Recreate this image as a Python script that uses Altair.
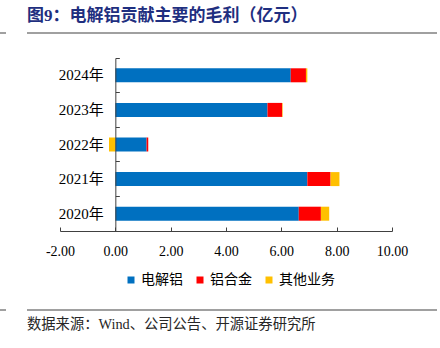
import altair as alt
import pandas as pd

years = ["2020年", "2021年", "2022年", "2023年", "2024年"]
series = ["电解铝", "铝合金", "其他业务"]
aluminium = [6.63, 6.94, 1.13, 5.50, 6.34]
alloy = [0.80, 0.84, 0.06, 0.53, 0.55]
other = [0.30, 0.32, -0.23, 0.02, 0.05]
colors = ["#0070C0", "#FF0000", "#FFC000"]
x_ticks = [-2, 0, 2, 4, 6, 8, 10]
title_text = "图9：电解铝贡献主要的毛利（亿元）"
source_text = "数据来源：Wind、公司公告、开源证券研究所"

rows = []
for i, yr in enumerate(years):
    for j, vals in enumerate([aluminium, alloy, other]):
        rows.append({"year": yr, "series": series[j], "order": j, "value": vals[i]})
df = pd.DataFrame(rows)

W, H = 332, 173
x0 = W * 2 / 12
AX = "#404040"
LINE = "#808080"

xscale = alt.Scale(domain=[-2, 10], nice=False, zero=False)
yscale = alt.Scale(domain=years[::-1], paddingInner=0, paddingOuter=0)

bars = alt.Chart(df).mark_bar(size=14).encode(
    x=alt.X("value:Q", stack="zero", scale=xscale, title=None,
            axis=alt.Axis(orient="bottom", values=x_ticks,
                          labelExpr="datum.value < 0 ? '-' + format(-datum.value, '.2f') : format(datum.value, '.2f')",
                          labelFlush=False, labelOverlap=False,
                          domain=False, ticks=False, tickSize=0, grid=False,
                          labelPadding=13, labelFont="Liberation Serif",
                          labelFontSize=14, labelColor="#000000")),
    y=alt.Y("year:N", scale=yscale, title=None,
            axis=alt.Axis(orient="left", offset=-x0, domain=False, ticks=False,
                          tickSize=0, grid=False, labelPadding=12,
                          labelFont="Liberation Serif, Noto Sans CJK SC",
                          labelFontSize=15, labelColor="#000000")),
    color=alt.Color("series:N", scale=alt.Scale(domain=series, range=colors),
                    legend=alt.Legend(orient="none", legendX=64, legendY=215,
                                      direction="horizontal", title=None,
                                      symbolType="square", symbolSize=49,
                                      symbolStrokeWidth=0, labelFont="Noto Sans CJK SC",
                                      labelFontSize=14, labelOffset=3,
                                      columnPadding=10, padding=0,
                                      labelColor="#000000")),
    order=alt.Order("order:Q"),
)

axes = alt.Chart(df).mark_bar(size=14, opacity=0).encode(
    x=alt.X("value:Q", stack="zero", scale=xscale, title=None,
            axis=alt.Axis(orient="top", offset=-H, values=x_ticks, labels=False,
                          domain=True, ticks=True, tickSize=4, grid=False,
                          domainColor=AX, tickColor=AX, zindex=1)),
    y=alt.Y("year:N", scale=yscale, title=None,
            axis=alt.Axis(orient="right", offset=-(W - x0), labels=False,
                          domain=True, ticks=True, tickSize=4, bandPosition=0,
                          grid=False, domainColor=AX, tickColor=AX, zindex=1)),
)

one = pd.DataFrame({"k": [0]})
rule_style = dict(color=LINE, strokeWidth=1.5)
top_line = alt.Chart(one).mark_rule(**rule_style).encode(
    x=alt.value(-33), x2=alt.value(377), y=alt.value(-25))
top_stub = alt.Chart(one).mark_rule(**rule_style).encode(
    x=alt.value(-60), x2=alt.value(-54), y=alt.value(-25))
bot_line = alt.Chart(one).mark_rule(**rule_style).encode(
    x=alt.value(-33), x2=alt.value(377), y=alt.value(252))
bot_stub = alt.Chart(one).mark_rule(**rule_style).encode(
    x=alt.value(-60), x2=alt.value(-54), y=alt.value(252))

src = alt.Chart(pd.DataFrame({"t": [source_text]})).mark_text(
    align="left", baseline="middle", font="Liberation Serif, Noto Sans CJK SC",
    fontSize=14.3, color="#262626").encode(
    x=alt.value(-33), y=alt.value(267), text="t:N")

chart = alt.layer(bars, axes, top_line, top_stub, bot_line, bot_stub, src).properties(
    width=W, height=H,
    autosize=alt.AutoSizeParams(type="none"),
    padding={"left": 60, "top": 58, "right": 48, "bottom": 117},
    background="white",
    title=alt.TitleParams(title_text, anchor="start", frame="group", dx=-33,
                          dy=11, offset=10, baseline="middle", fontSize=17,
                          font="Liberation Serif, Noto Sans CJK SC",
                          fontWeight="bold", color="#1F2F80"),
).configure_view(stroke=None)

chart.save("out.html", embed_options={"renderer": "svg", "actions": False})
